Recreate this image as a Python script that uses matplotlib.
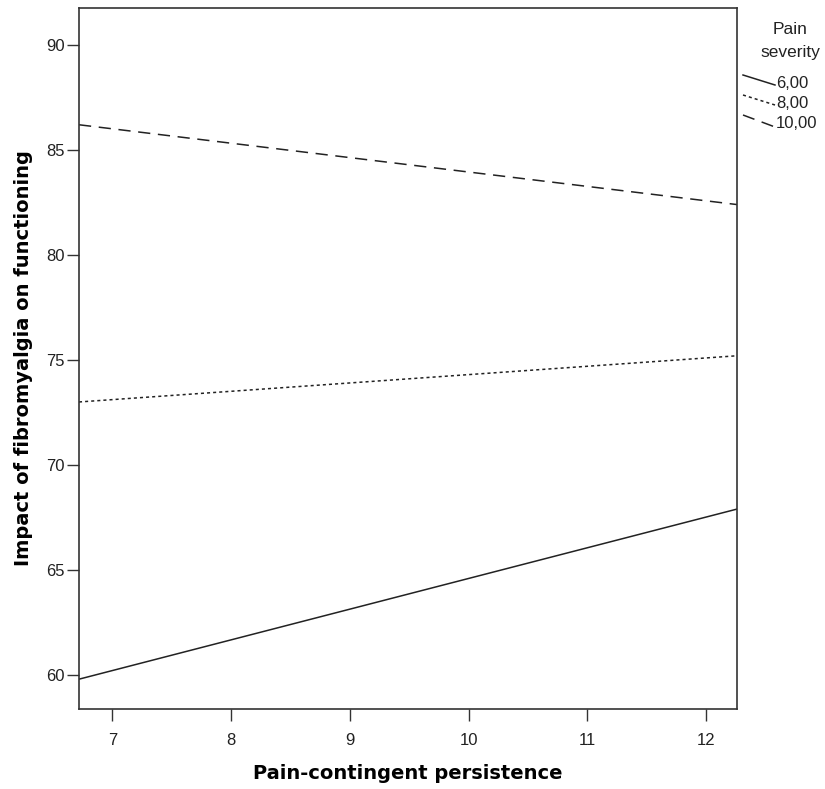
import matplotlib
matplotlib.use("Agg")
import matplotlib.pyplot as plt
from matplotlib.lines import Line2D
import numpy as np

plt.rcParams['font.family'] = ['Liberation Sans', 'DejaVu Sans']

x_range = [6.72, 12.26]
severities = ["6,00", "8,00", "10,00"]
start_vals = [59.8, 73.0, 86.2]
end_vals = [67.9, 75.2, 82.4]
styles = ['-', (0, (2, 2)), (0, (8, 5))]
x_ticks = [7, 8, 9, 10, 11, 12]
y_ticks = [60, 65, 70, 75, 80, 85, 90]

W, H = 825, 789
fig = plt.figure(figsize=(W / 100, H / 100), dpi=100)
ax = fig.add_axes([79 / W, 1 - 709 / H, (737 - 79) / W, (709 - 8) / H])

for sev, s, e, ls in zip(severities, start_vals, end_vals, styles):
    ax.plot(x_range, [s, e], color='#222222', lw=1.1, linestyle=ls, label=sev)

ax.set_xlim(6.72, 12.26)
ax.set_ylim(58.38, 91.76)
ax.set_xticks(x_ticks)
ax.set_yticks(y_ticks)
ax.tick_params(direction='out', length=8.5, width=1, colors='#333333', labelsize=12)
ax.tick_params(axis='y', pad=1.5, labelcolor='#222222')
ax.tick_params(axis='x', pad=9, labelcolor='#222222')
for sp in ax.spines.values():
    sp.set_color('#333333')
    sp.set_linewidth(1.2)

ax.set_xlabel('Pain-contingent persistence', fontsize=14, fontweight='bold',
              family='DejaVu Sans', labelpad=11)
ax.set_ylabel('Impact of fibromyalgia on functioning', fontsize=14, fontweight='bold',
              family='DejaVu Sans', labelpad=10)

# legend (outside, right), drawn in figure pixel coordinates
def fx(px):
    return px / W

def fy(py):
    return 1 - py / H

fig.text(fx(790), fy(30), 'Pain', ha='center', va='center', fontsize=12.5, color='#222222')
fig.text(fx(790), fy(52), 'severity', ha='center', va='center', fontsize=12.5, color='#222222')
label_y = [83, 104, 123]
handle_y = [(75, 85), (95, 105), (115, 127)]
for sev, ls, ly, (hy0, hy1) in zip(severities, styles, label_y, handle_y):
    fig.add_artist(Line2D([fx(743), fx(775)], [fy(hy0), fy(hy1)], color='#222222',
                          lw=1.1, linestyle=ls, transform=fig.transFigure))
    fig.text(fx(776), fy(ly), sev, ha='left', va='center', fontsize=12, color='#222222')

fig.savefig('out.png', dpi=100)
